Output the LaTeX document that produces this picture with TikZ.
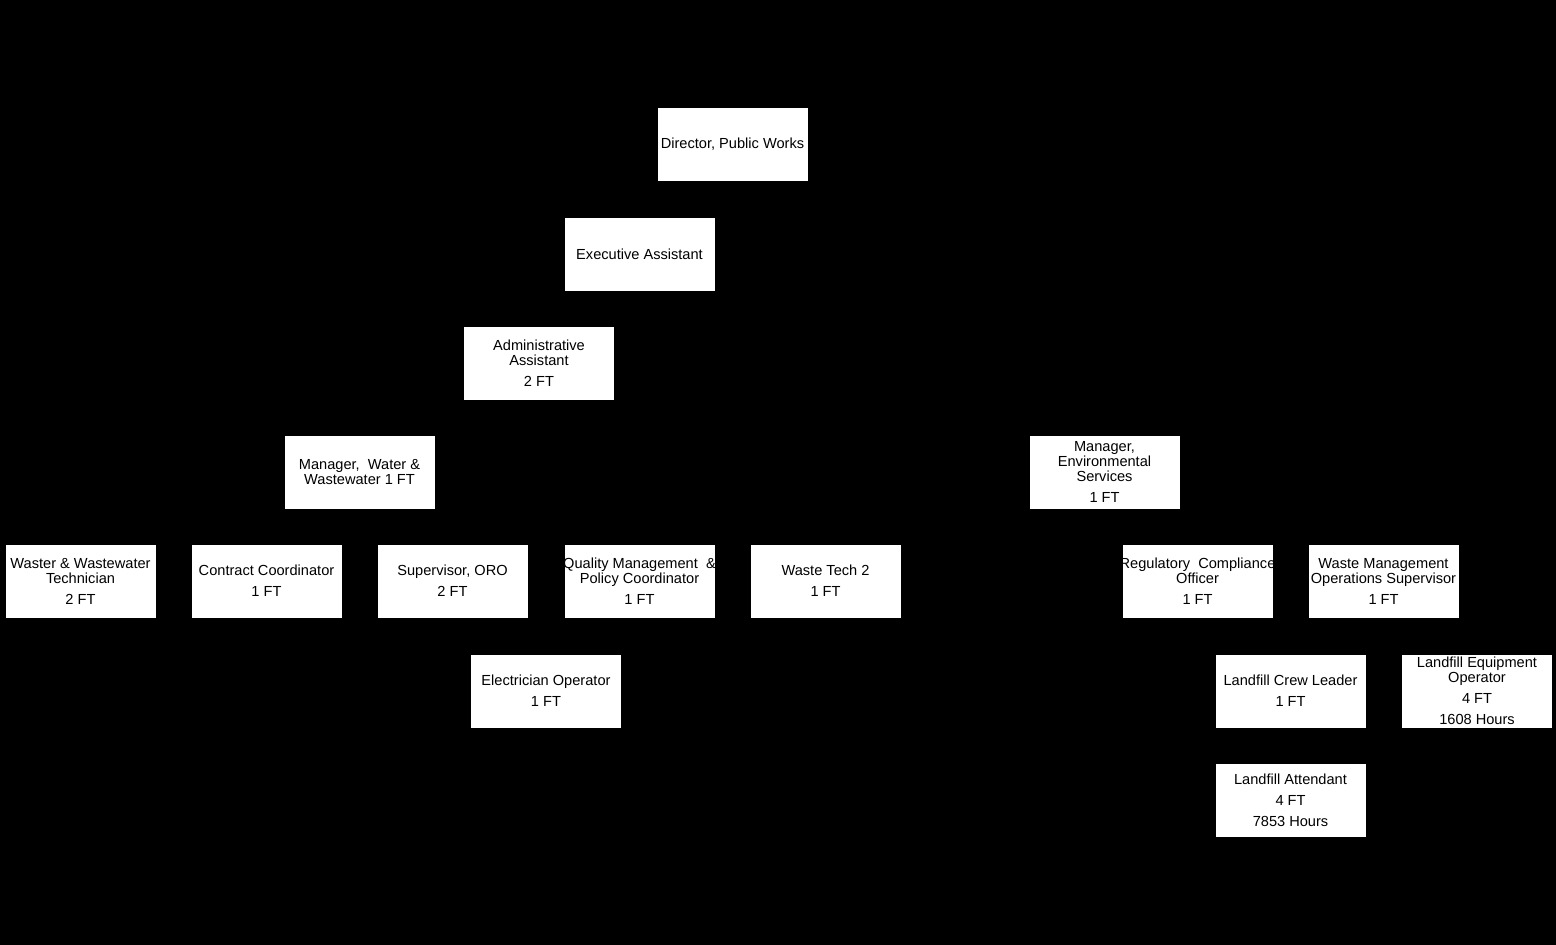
\documentclass[tikz,border=0pt]{standalone}
\usepackage{fontspec}
\setmainfont{Liberation Sans}
\newcommand{\wideline}[1]{\makebox[0pt][c]{#1}}
\begin{document}
\begin{tikzpicture}[x=1pt,y=-1pt,
  box/.style={rectangle,fill=white,draw=none,minimum width=150pt,minimum height=73pt,inner sep=0pt,align=center,text=black,
    font=\fontsize{14.6}{15}\selectfont}]
\fill[black] (0,0) rectangle (1556,945);
\useasboundingbox (0,0) rectangle (1556,945);
\node[box] (dir) at (732.5,144) {\wideline{Director, Public Works}};
\node[box] (exec) at (639.5,254) {Executive Assistant};
\node[box] (admin) at (539,363) {Administrative\\Assistant\\[6pt]2 FT};
\node[box] (mww) at (359.5,472) {Manager,\ \ Water \&\\Wastewater 1 FT};
\node[box] (menv) at (1104.5,472) {Manager,\\Environmental\\Services\\[6pt]1 FT};
\node[box] (wwt) at (80.5,581) {\wideline{Waster \& Wastewater}\\Technician\\[6pt]2 FT};
\node[box] (cc) at (266.5,581) {Contract Coordinator\\[6pt]1 FT};
\node[box] (sup) at (452.5,581) {Supervisor, ORO\\[6pt]2 FT};
\node[box] (qm) at (639.5,581) {\wideline{Quality Management\ \ \&}\\Policy Coordinator\\[6pt]1 FT};
\node[box] (wt2) at (825.5,581) {Waste Tech 2\\[6pt]1 FT};
\node[box] (rco) at (1197.5,581) {\wideline{Regulatory\ \ Compliance}\\Officer\\[6pt]1 FT};
\node[box] (wmos) at (1383.5,581) {Waste Management\\\wideline{Operations Supervisor}\\[6pt]1 FT};
\node[box] (elec) at (546,691) {Electrician Operator\\[6pt]1 FT};
\node[box] (lcl) at (1290.5,691) {Landfill Crew Leader\\[6pt]1 FT};
\node[box] (leo) at (1477,691) {Landfill Equipment\\Operator\\[6pt]4 FT\\[6pt]1608 Hours};
\node[box] (la) at (1290.5,800) {Landfill Attendant\\[6pt]4 FT\\[6pt]7853 Hours};
\end{tikzpicture}
\end{document}
